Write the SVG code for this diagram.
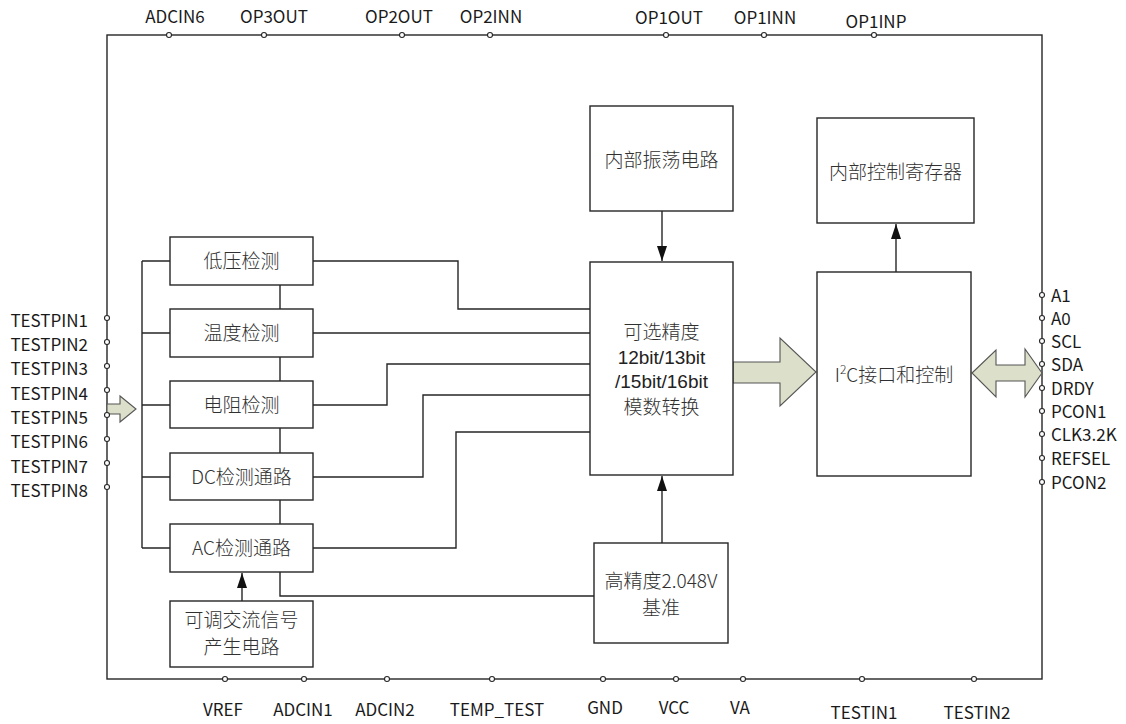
<svg xmlns="http://www.w3.org/2000/svg" width="1126" height="724" viewBox="0 0 1126 724">
<style>
.box{fill:#fff;stroke:#262626;stroke-width:1.4}
.ln{fill:none;stroke:#262626;stroke-width:1.4}
.pin{fill:#fff;stroke:#262626;stroke-width:1.1}
.bt{font-family:"Noto Sans CJK SC",sans-serif;font-size:19px;font-weight:300;fill:#303030;text-anchor:middle}
.lt{font-family:"Liberation Sans",sans-serif;font-size:19px;fill:#222;text-anchor:middle}
.pl{font-family:"Noto Sans CJK SC",sans-serif;font-size:17px;fill:#1a1a1a}
.mid{text-anchor:middle}
.end{text-anchor:end}
.blk{fill:#dcdfc9;stroke:#555;stroke-width:1.1}
</style>
<defs>
<marker id="ah" markerUnits="userSpaceOnUse" markerWidth="16" markerHeight="12" refX="15" refY="5" orient="auto">
<path d="M0,0 L15,5 L0,10 z" fill="#111"/>
</marker>
</defs>
<rect width="1126" height="724" fill="#fff"/>

<g id="frame">
<rect x="107" y="35" width="935" height="644" class="ln"/>
</g>

<g id="connectors">
<path class="ln" d="M142,261 V548 M142,261 H170 M142,333 H170 M142,405 H170 M142,477 H170 M142,548 H170"/>
<path class="ln" d="M280,285 V309 M280,357 V381 M280,428 V453 M280,500 V524"/>
<path class="ln" d="M280,572 V596 H594"/>
<path class="ln" d="M313,261 H458 V309 H590"/>
<path class="ln" d="M313,333 H590"/>
<path class="ln" d="M313,405 H387 V364 H590"/>
<path class="ln" d="M313,477 H423 V395 H590"/>
<path class="ln" d="M313,548 H456 V432 H590"/>
<path class="ln" d="M242,601 V573" marker-end="url(#ah)"/>
<path class="ln" d="M662,211 V261" marker-end="url(#ah)"/>
<path class="ln" d="M662,543 V476" marker-end="url(#ah)"/>
<path class="ln" d="M896,272 V224" marker-end="url(#ah)"/>
<polygon class="blk" points="107,404 120,404 120,396 136,409 120,422 120,414 107,414"/>
<polygon class="blk" points="733,362 780,362 780,338 816,372 780,406 780,383 733,383"/>
<polygon class="blk" points="972,373 996,350 996,365 1025,365 1025,349 1042,373 1025,397 1025,381 996,381 996,397"/>
</g>

<g id="n-lowv"><rect class="box" x="170" y="237" width="143" height="48"/><text class="bt" x="241.5" y="268">低压检测</text></g>
<g id="n-temp"><rect class="box" x="170" y="309" width="143" height="48"/><text class="bt" x="241.5" y="340">温度检测</text></g>
<g id="n-res"><rect class="box" x="170" y="381" width="143" height="47"/><text class="bt" x="241.5" y="412">电阻检测</text></g>
<g id="n-dc"><rect class="box" x="170" y="453" width="143" height="47"/><text class="bt" x="241.5" y="484">DC检测通路</text></g>
<g id="n-ac"><rect class="box" x="170" y="524" width="143" height="48"/><text class="bt" x="241.5" y="555">AC检测通路</text></g>
<g id="n-acgen"><rect class="box" x="170" y="601" width="143" height="66"/><text class="bt" x="241.5" y="627">可调交流信号</text><text class="bt" x="241.5" y="654">产生电路</text></g>
<g id="n-osc"><rect class="box" x="590" y="106" width="143" height="105"/><text class="bt" x="661.5" y="167">内部振荡电路</text></g>
<g id="n-adc"><rect class="box" x="590" y="262" width="143" height="213"/>
<text class="bt" x="661.5" y="339">可选精度</text>
<text class="lt" x="661.5" y="364">12bit/13bit</text>
<text class="lt" x="661.5" y="388">/15bit/16bit</text>
<text class="bt" x="661.5" y="414">模数转换</text></g>
<g id="n-ref"><rect class="box" x="594" y="543" width="134" height="100"/><text class="bt" x="661" y="588">高精度2.048V</text><text class="bt" x="661" y="615">基准</text></g>
<g id="n-reg"><rect class="box" x="817" y="118" width="157" height="105"/><text class="bt" x="895.5" y="179">内部控制寄存器</text></g>
<g id="n-i2c"><rect class="box" x="817" y="272" width="154" height="204"/><text class="bt" x="894" y="382">I<tspan font-size="12" dy="-8">2</tspan><tspan dy="8">C接口和控制</tspan></text></g>

<g id="pins">
<circle class="pin" cx="169" cy="35" r="2.5"/><circle class="pin" cx="264" cy="35" r="2.5"/><circle class="pin" cx="402" cy="35" r="2.5"/><circle class="pin" cx="490" cy="35" r="2.5"/><circle class="pin" cx="666" cy="35" r="2.5"/><circle class="pin" cx="764" cy="35" r="2.5"/><circle class="pin" cx="874" cy="35" r="2.5"/>
<circle class="pin" cx="225" cy="679" r="2.5"/><circle class="pin" cx="304" cy="679" r="2.5"/><circle class="pin" cx="387" cy="679" r="2.5"/><circle class="pin" cx="492" cy="679" r="2.5"/><circle class="pin" cx="603" cy="679" r="2.5"/><circle class="pin" cx="676" cy="679" r="2.5"/><circle class="pin" cx="743" cy="679" r="2.5"/><circle class="pin" cx="862" cy="679" r="2.5"/><circle class="pin" cx="974" cy="679" r="2.5"/>
<circle class="pin" cx="107" cy="318" r="2.5"/><circle class="pin" cx="107" cy="342" r="2.5"/><circle class="pin" cx="107" cy="366" r="2.5"/><circle class="pin" cx="107" cy="390" r="2.5"/><circle class="pin" cx="107" cy="415" r="2.5"/><circle class="pin" cx="107" cy="439" r="2.5"/><circle class="pin" cx="107" cy="463" r="2.5"/><circle class="pin" cx="107" cy="487" r="2.5"/>
<circle class="pin" cx="1042" cy="295" r="2.5"/><circle class="pin" cx="1042" cy="318" r="2.5"/><circle class="pin" cx="1042" cy="341" r="2.5"/><circle class="pin" cx="1042" cy="364" r="2.5"/><circle class="pin" cx="1042" cy="388" r="2.5"/><circle class="pin" cx="1042" cy="411" r="2.5"/><circle class="pin" cx="1042" cy="434" r="2.5"/><circle class="pin" cx="1042" cy="458" r="2.5"/><circle class="pin" cx="1042" cy="482" r="2.5"/>
</g>

<g id="pin-labels">
<text class="pl mid" x="175" y="23">ADCIN6</text>
<text class="pl mid" x="274" y="23">OP3OUT</text>
<text class="pl mid" x="399" y="23">OP2OUT</text>
<text class="pl mid" x="491" y="23">OP2INN</text>
<text class="pl mid" x="669" y="24">OP1OUT</text>
<text class="pl mid" x="765" y="24">OP1INN</text>
<text class="pl mid" x="876" y="28">OP1INP</text>
<text class="pl mid" x="223" y="716">VREF</text>
<text class="pl mid" x="303" y="716">ADCIN1</text>
<text class="pl mid" x="385" y="716">ADCIN2</text>
<text class="pl mid" x="497" y="716">TEMP_TEST</text>
<text class="pl mid" x="605" y="714">GND</text>
<text class="pl mid" x="674" y="714">VCC</text>
<text class="pl mid" x="740" y="714">VA</text>
<text class="pl mid" x="864" y="719">TESTIN1</text>
<text class="pl mid" x="977" y="719">TESTIN2</text>
<text class="pl end" x="88" y="327">TESTPIN1</text>
<text class="pl end" x="88" y="351">TESTPIN2</text>
<text class="pl end" x="88" y="375">TESTPIN3</text>
<text class="pl end" x="88" y="400">TESTPIN4</text>
<text class="pl end" x="88" y="424">TESTPIN5</text>
<text class="pl end" x="88" y="448">TESTPIN6</text>
<text class="pl end" x="88" y="473">TESTPIN7</text>
<text class="pl end" x="88" y="497">TESTPIN8</text>
<text class="pl" x="1051" y="302">A1</text>
<text class="pl" x="1051" y="325">A0</text>
<text class="pl" x="1051" y="348">SCL</text>
<text class="pl" x="1051" y="371">SDA</text>
<text class="pl" x="1051" y="395">DRDY</text>
<text class="pl" x="1051" y="418">PCON1</text>
<text class="pl" x="1051" y="441">CLK3.2K</text>
<text class="pl" x="1051" y="465">REFSEL</text>
<text class="pl" x="1051" y="489">PCON2</text>
</g>
</svg>
